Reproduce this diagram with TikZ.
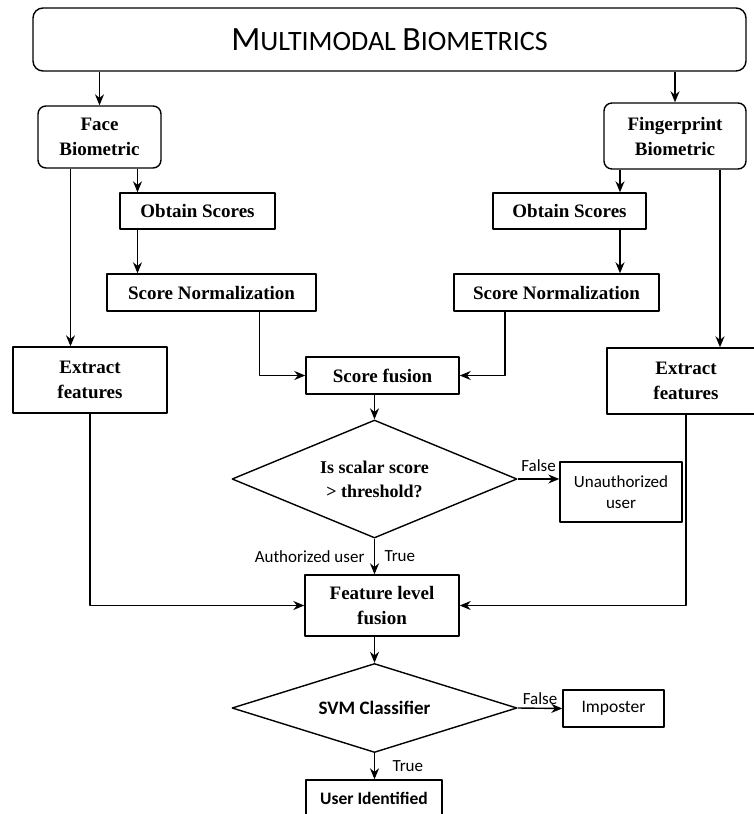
\documentclass[tikz,border=0pt]{standalone}
\usepackage{fontspec}
\setmainfont{Liberation Serif}
\newfontfamily\calibrifont{Carlito}
\usetikzlibrary{shapes.geometric,arrows.meta}

\begin{document}
\begin{tikzpicture}[x=1pt,y=-1pt,>={Stealth[length=11pt,width=9pt]}, line width=1.4pt, line join=round,
		box/.style={draw,rectangle,minimum height=37pt,inner sep=2pt,align=center,font=\fontsize{19}{25}\selectfont\bfseries},
		rbox/.style={box,rounded corners=8pt},
		decision/.style={draw,diamond,aspect=2.4,inner sep=0pt,align=center,minimum width=285pt},
		lbl/.style={font=\calibrifont\fontsize{17}{21}\selectfont}]
	\useasboundingbox (0,0) rectangle (753,814);
	\node[draw,rounded corners=10pt,minimum width=713pt,minimum height=63pt] (title) at (389.5,39.5)
		{\calibrifont\fontsize{34}{40}\selectfont M\fontsize{28}{40}\selectfont ULTIMODAL \fontsize{34}{40}\selectfont B\fontsize{28}{40}\selectfont IOMETRICS};
	\node[rbox,minimum width=123pt,minimum height=62pt] (face) at (99.5,137) {Face\\Biometric};
	\node[rbox,minimum width=142pt,minimum height=66pt] (finger) at (675,136) {Fingerprint\\Biometric};
	\node[box,minimum width=155pt,minimum height=36pt] (obtL) at (197.5,211) {Obtain Scores};
	\node[box,minimum width=153pt,minimum height=36pt] (obtR) at (569.5,211) {Obtain Scores};
	\node[box,minimum width=209pt] (normL) at (211.5,292.5) {Score Normalization};
	\node[box,minimum width=205pt] (normR) at (556.5,292.5) {Score Normalization};
	\node[box,minimum width=154pt,minimum height=66pt] (extL) at (90,380) {Extract\\features};
	\node[box,minimum width=158pt,minimum height=66pt] (extR) at (686,381) {Extract\\features};
	\node[box,minimum width=153pt] (sfus) at (382.5,375.5) {Score fusion};
	\node[decision,minimum height=118pt,font=\fontsize{18}{24}\selectfont\bfseries] (dia1) at (374.5,479) {Is scalar score\\> threshold?};
	\node[box,lbl,minimum width=122pt,minimum height=60pt] (unauth) at (621,492) {Unauthorized\\user};
	\node[box,minimum width=154pt,minimum height=61pt] (ffus) at (382,605.5) {Feature level\\fusion};
	\node[decision,minimum height=89pt,font=\calibrifont\fontsize{19}{22}\selectfont\bfseries] (dia2) at (374.5,708) {SVM Classifier};
	\node[box,lbl,minimum width=101pt,minimum height=37pt,font=\calibrifont\fontsize{17.5}{21}\selectfont] (imp) at (613.5,708.5) {Imposter};
	\node[box,minimum width=136pt,minimum height=36pt,font=\calibrifont\fontsize{17.5}{21}\selectfont\bfseries] (uid) at (374,798) {User Identified};

	\coordinate (fA) at ([xshift=-29pt]face.south);
	\coordinate (fB) at ([xshift=38pt]face.south);
	\coordinate (gA) at ([xshift=-55pt]finger.south);
	\coordinate (gB) at ([xshift=45pt]finger.south);
	\coordinate (nL) at ([xshift=48pt]normL.south);
	\coordinate (nR) at ([xshift=-51.5pt]normR.south);

	\draw[->] (title.south -| face) -- (face.north);
	\draw[->] (title.south -| finger) -- (finger.north);
	\draw[->] (fA) -- (fA |- extL.north);
	\draw[->] (fB) -- (fB |- obtL.north);
	\draw[->] (obtL.south -| fB) -- (normL.north -| fB);
	\draw[->] (gA) -- (gA |- obtR.north);
	\draw[->] (obtR.south -| gA) -- (normR.north -| gA);
	\draw[->] (gB) -- (gB |- extR.north);
	\draw[->] (nL) |- (sfus.west);
	\draw[->] (nR) |- (sfus.east);
	\draw[->] (sfus.south -| dia1) -- (dia1.north);
	\draw[->] (dia1.east) -- (dia1.east -| unauth.west) node[midway,above=3pt,lbl]{False};
	\draw[->] (dia1.south) -- (dia1.south |- ffus.north) node[midway,left=6pt,lbl]{Authorized user} node[midway,right=6pt,lbl]{True};
	\draw[->] (extL.south) |- (ffus.west);
	\draw[->] (extR.south) |- (ffus.east);
	\draw[->] (ffus.south -| dia2) -- (dia2.north);
	\draw[->] (dia2.east) -- (imp.west) node[midway,above,lbl]{False};
	\draw[->] (dia2.south) -- (dia2.south |- uid.north) node[midway,right=14pt,lbl]{True};
\end{tikzpicture}
\end{document}
